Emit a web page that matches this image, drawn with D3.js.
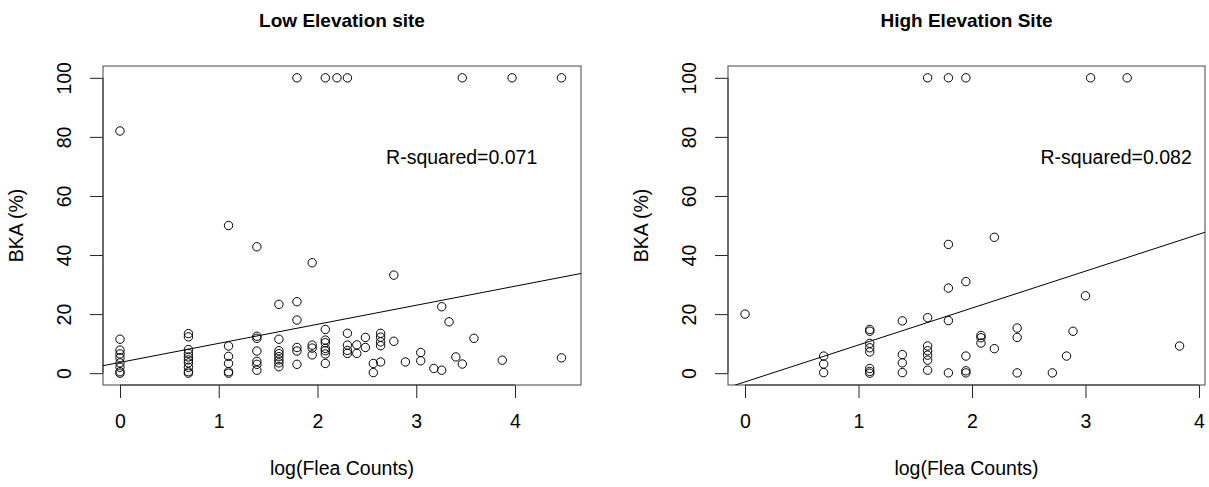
<!DOCTYPE html>
<html>
<head>
<meta charset="utf-8">
<script src="https://cdn.jsdelivr.net/npm/d3@7/dist/d3.min.js"></script>
<style>
  body { margin: 0; background: #fff; }
  text { font-family: "Liberation Sans", Arial, Helvetica, sans-serif; fill: #000; }
</style>
</head>
<body>
<div id="chart"></div>
<script>
// Low elevation site: log(flea counts) and BKA (%) for every animal
const lowX = [
  0, 0, 0, 0, 0, 0, 0, 0, 0,
  0.693, 0.693, 0.693, 0.693, 0.693, 0.693, 0.693, 0.693, 0.693, 0.693,
  1.099, 1.099, 1.099, 1.099, 1.099, 1.099,
  1.386, 1.386, 1.386, 1.386, 1.386, 1.386, 1.386,
  1.609, 1.609, 1.609, 1.609, 1.609, 1.609, 1.609, 1.609,
  1.792, 1.792, 1.792, 1.792, 1.792, 1.792,
  1.946, 1.946, 1.946, 1.946,
  2.079, 2.079, 2.079, 2.079, 2.079, 2.079, 2.079, 2.079,
  2.197,
  2.303, 2.303, 2.303, 2.303, 2.303,
  2.398, 2.398,
  2.485, 2.485,
  2.565, 2.565,
  2.639, 2.639, 2.639, 2.639, 2.639,
  2.773, 2.773,
  2.89,
  3.045, 3.045,
  3.178,
  3.258, 3.258,
  3.332,
  3.401,
  3.466, 3.466,
  3.584,
  3.871,
  3.97,
  4.47, 4.47
];
const lowY = [
  82, 11.5, 7.8, 6.5, 5.2, 3.5, 2, 0.5, 0,
  13.4, 12.3, 8, 6.7, 5.5, 4.5, 3.5, 2, 0.5, 0,
  50, 9.2, 5.7, 3.3, 0.5, 0,
  42.8, 12.5, 11.8, 7.5, 4, 3, 1,
  23.3, 11.5, 7.6, 6.6, 5.6, 4.5, 3.5, 2.2,
  100, 24.2, 18, 8.7, 7.5, 3,
  37.4, 9.5, 8.5, 6.2,
  100, 14.8, 11.2, 10.3, 8.4, 7.6, 6.5, 3.3,
  100,
  100, 13.5, 9.5, 7.7, 6.7,
  9.6, 6.7,
  12.1, 8.7,
  3.3, 0.2,
  13.5, 12.2, 10.6, 9.3, 3.8,
  33.2, 10.8,
  3.8,
  7, 4.2,
  1.6,
  22.5, 1.0,
  17.4,
  5.5,
  100, 3.1,
  11.8,
  4.4,
  100,
  100, 5.2
];

// High elevation site
const highX = [
  0,
  0.693, 0.693, 0.693,
  1.099, 1.099, 1.099, 1.099, 1.099, 1.099, 1.099, 1.099,
  1.386, 1.386, 1.386, 1.386,
  1.609, 1.609, 1.609, 1.609, 1.609, 1.609, 1.609,
  1.792, 1.792, 1.792, 1.792, 1.792,
  1.946, 1.946, 1.946, 1.946, 1.946,
  2.079, 2.079, 2.079,
  2.197, 2.197,
  2.398, 2.398, 2.398,
  2.708,
  2.833,
  2.89,
  3.0,
  3.045,
  3.367,
  3.829
];
const highY = [
  20,
  5.8, 3.1, 0.2,
  14.8, 14.2, 10.1, 8.6, 7.2, 1.6, 0.6, 0,
  17.7, 6.3, 3.5, 0.2,
  100, 18.8, 9.2, 7.6, 6.1, 4.4, 1.0,
  100, 43.6, 28.8, 17.8, 0.1,
  100, 31, 5.8, 0.8, 0.1,
  12.8, 12.0, 10.2,
  46, 8.3,
  15.3, 12.1, 0.1,
  0.1,
  5.8,
  14.2,
  26.2,
  100,
  100,
  9.2
];

// fitted lines [intercept, slope] and their R-squared
const lowFit = [3.65, 6.45];
const highFit = [-2.95, 12.5];
const rSquared = ['R-squared=0.071', 'R-squared=0.082'];
const titles = ['Low Elevation site', 'High Elevation Site'];
const xTicks = [0, 1, 2, 3, 4];
const yTicks = [0, 20, 40, 60, 80, 100];

const width = 1209, height = 487;
const plotTop = 66, plotBottom = 385;

const panels = [
  {title: titles[0], xs: lowX, ys: lowY, fit: lowFit, r2: rSquared[0],
   left: 103, right: 581, xDomain: [-0.172, 4.668], r2At: [3.46, 73]},
  {title: titles[1], xs: highX, ys: highY, fit: highFit, r2: rSquared[1],
   left: 728, right: 1205, xDomain: [-0.15, 4.053], r2At: [3.27, 73]}
];

const svg = d3.select('#chart').append('svg')
    .attr('width', width)
    .attr('height', height);

panels.forEach((p, i) => {
  const x = d3.scaleLinear().domain(p.xDomain).range([p.left, p.right]);
  const y = d3.scaleLinear().domain([-4, 104]).range([plotBottom, plotTop]);

  const g = svg.append('g');

  g.append('clipPath').attr('id', `clip${i}`)
    .append('rect')
      .attr('x', p.left).attr('y', plotTop)
      .attr('width', p.right - p.left).attr('height', plotBottom - plotTop);

  // x axis
  const xAxis = g.append('g')
      .attr('transform', `translate(0,${plotBottom})`)
      .call(d3.axisBottom(x).tickValues(xTicks).tickSize(13).tickSizeOuter(0).tickFormat(d3.format('d')));
  xAxis.select('.domain').remove();
  xAxis.selectAll('.tick line').attr('stroke', '#222');
  xAxis.selectAll('.tick text')
      .attr('y', 43).attr('dy', null)
      .style('font-size', '19.5px');
  g.append('line')
      .attr('x1', x(xTicks[0])).attr('x2', x(xTicks[xTicks.length - 1]))
      .attr('y1', plotBottom).attr('y2', plotBottom)
      .attr('stroke', '#222');

  // y axis
  const yAxis = g.append('g')
      .attr('transform', `translate(${p.left},0)`)
      .call(d3.axisLeft(y).tickValues(yTicks).tickSize(13).tickSizeOuter(0));
  yAxis.select('.domain').remove();
  yAxis.selectAll('.tick line').attr('stroke', '#222');
  yAxis.selectAll('.tick text')
      .attr('x', null).attr('dy', null)
      .attr('text-anchor', 'middle')
      .attr('transform', 'translate(-32,0) rotate(-90)')
      .style('font-size', '19.5px');
  g.append('line')
      .attr('x1', p.left).attr('x2', p.left)
      .attr('y1', y(yTicks[0])).attr('y2', y(yTicks[yTicks.length - 1]))
      .attr('stroke', '#222');

  // box
  g.append('rect')
      .attr('x', p.left).attr('y', plotTop)
      .attr('width', p.right - p.left).attr('height', plotBottom - plotTop)
      .attr('fill', 'none').attr('stroke', '#444');

  // fitted line
  g.append('line')
      .attr('clip-path', `url(#clip${i})`)
      .attr('x1', x(p.xDomain[0])).attr('y1', y(p.fit[0] + p.fit[1] * p.xDomain[0]))
      .attr('x2', x(p.xDomain[1])).attr('y2', y(p.fit[0] + p.fit[1] * p.xDomain[1]))
      .attr('stroke', '#000').attr('stroke-width', 1);

  // points
  g.selectAll('circle.pt')
    .data(p.xs.map((v, j) => [v, p.ys[j]]))
    .enter().append('circle')
      .attr('class', 'pt')
      .attr('cx', d => x(d[0]))
      .attr('cy', d => y(d[1]))
      .attr('r', 4.2)
      .attr('fill', 'none')
      .attr('stroke', '#000')
      .attr('stroke-width', 1);

  // r-squared
  g.append('text')
      .attr('x', x(p.r2At[0])).attr('y', y(p.r2At[1]))
      .attr('dy', '0.35em')
      .attr('text-anchor', 'middle')
      .style('font-size', '19.5px')
      .text(p.r2);

  // titles and labels
  const cx = (p.left + p.right) / 2;
  g.append('text')
      .attr('x', cx).attr('y', 27)
      .attr('text-anchor', 'middle')
      .style('font-size', '19px').style('font-weight', 'bold')
      .text(p.title);

  g.append('text')
      .attr('x', cx).attr('y', 475)
      .attr('text-anchor', 'middle')
      .style('font-size', '19.5px')
      .text('log(Flea Counts)');

  g.append('text')
      .attr('transform', `translate(${p.left - 80},${(plotTop + plotBottom) / 2}) rotate(-90)`)
      .attr('text-anchor', 'middle')
      .style('font-size', '19.5px')
      .text('BKA (%)');
});
</script>
</body>
</html>
